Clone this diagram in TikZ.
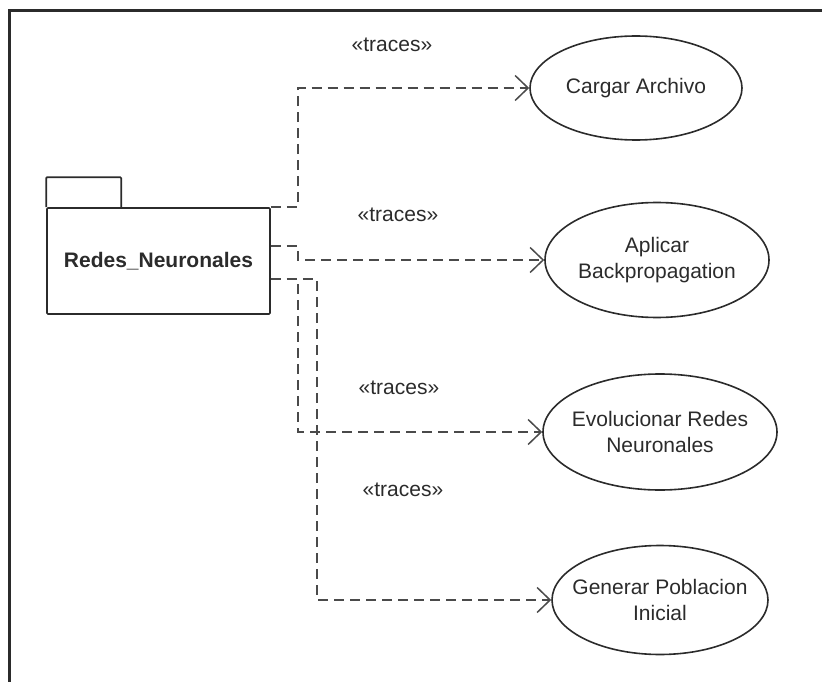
\documentclass[tikz,border=0pt]{standalone}
\usepackage{fontspec}
\setmainfont{Liberation Sans}
\usetikzlibrary{shapes.geometric,arrows.meta,calc}
\definecolor{ink}{HTML}{2B2B2B}
\definecolor{wire}{HTML}{4A4A4A}
\begin{document}
\begin{tikzpicture}[x=1pt,y=-1pt,
  every node/.style={font=\fontsize{21}{26}\selectfont, text=ink},
  usecase/.style={draw=ink, line width=1.6pt, ellipse, inner sep=0pt},
  pkgbox/.style={draw=ink, line width=1.7pt, inner sep=0pt, rounded corners=1pt},
  trace/.style={draw=wire, line width=1.8pt, dash pattern=on 10pt off 6pt,
    -{Straight Barb[length=13pt,width=25pt,line width=1.5pt]}},
  stereo/.style={text=ink}]
\useasboundingbox (0,0) rectangle (822,682);

% outer frame (only the left and top edges lie inside the page)
\draw[line width=2.4pt, draw=ink] (9.5,682) -- (9.5,10.5) -- (822,10.5);

% package with its tab
\node[pkgbox, minimum width=223pt, minimum height=106pt,
      font=\fontsize{21}{26}\selectfont\bfseries] (pkg) at (158.5,261) {Redes\_Neuronales};
\draw[ink, line width=1.7pt, rounded corners=1pt]
  (pkg.north west) -- ++(0,-30) -- ++(75,0) -- ++(0,30);

% use cases
\node[usecase, minimum width=212pt, minimum height=104pt,
      label={[align=center]center:Cargar Archivo}] (cargar) at (636,88) {};
\node[usecase, minimum width=224pt, minimum height=115pt,
      label={[align=center]center:{Aplicar\\Backpropagation}}] (aplic) at (657,260) {};
\node[usecase, minimum width=234pt, minimum height=116pt,
      label={[align=center]center:{Evolucionar Redes\\Neuronales}}] (evol) at (660,432) {};
\node[usecase, minimum width=216pt, minimum height=109pt,
      label={[align=center]center:{Generar Poblacion\\Inicial}}] (gen) at (660,600) {};

% stereotypes
\node[stereo] (t1) at (392,45) {«traces»};
\node[stereo] (t2) at (398,215) {«traces»};
\node[stereo] (t3) at (399,388) {«traces»};
\node[stereo] (t4) at (403,490) {«traces»};

% trace dependencies
\draw[trace] (pkg.north east) -- ++(27,0) |- (cargar.west);
\draw[trace] ([yshift=-39pt]pkg.north east) -- ++(27,0) |- (aplic.west);
\draw[trace] ([yshift=-72pt]pkg.north east) -- ++(27,0) |- (evol.west);
\draw[trace] ([yshift=-72pt]pkg.north east) -- ++(46,0) |- (gen.west);
\end{tikzpicture}
\end{document}
